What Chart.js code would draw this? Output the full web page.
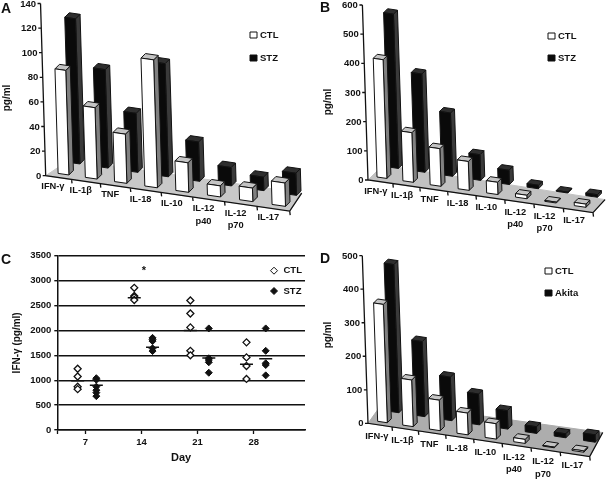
<!DOCTYPE html>
<html lang="en">
<head>
<meta charset="UTF-8">
<title>Cytokine levels</title>
<script src="https://cdn.jsdelivr.net/npm/chart.js"></script>
<style>
    body { margin: 0; background: #fff; }
    #page { position: relative; width: 606px; height: 481px; overflow: hidden; }
    canvas { position: absolute; }
    .letter { position: absolute; font: bold 14px "Liberation Sans", Arial, sans-serif; color: #111; line-height: 14px; }
</style>
</head>
<body>
<div id="page">
    <canvas id="chartC" width="306" height="241" style="left:0;top:240px"></canvas>
    <canvas id="chartA" width="303" height="240" style="left:0;top:0"></canvas>
    <canvas id="chartB" width="303" height="240" style="left:303px;top:0"></canvas>
    <canvas id="chartD" width="303" height="241" style="left:303px;top:240px"></canvas>
    <div class="letter" style="left:1px;top:1px">A</div>
    <div class="letter" style="left:320px;top:0px">B</div>
    <div class="letter" style="left:1px;top:252px">C</div>
    <div class="letter" style="left:320px;top:251px">D</div>
</div>
<script>
const cytokines = ['IFN-γ', 'IL-1β', 'TNF', 'IL-18', 'IL-10', ['IL-12', 'p40'], ['IL-12', 'p70'], 'IL-17'];

// panel A
const ctlA = [85, 58, 40, 104, 24, 9, 11, 19];
const stzA = [118, 80, 48, 92, 32, 15, 11, 18];
// panel B
const ctlB = [407, 170, 129, 99, 42, 12, 3, 11];
const stzB = [529, 337, 217, 88, 49, 12, 3, 9];
// panel D
const ctlD = [353, 139, 91, 65, 46, 12, 2, 4];
const akitaD = [442, 224, 130, 92, 55, 20, 12, 22];

// panel C, one list of values per day
const dayTicks = [3.5, 7, 14, 21, 28];
const ctlDays = [6.04, 13.1, 20.1, 27.1];
const stzDays = [8.37, 15.38, 22.4, 29.5];
const ctlValues = [
    [1230, 1075, 870, 820],
    [2855, 2690, 2665, 2610],
    [2600, 2340, 2060, 1590, 1500],
    [1760, 1458, 1285, 1025]
];
const stzValues = [
    [1040, 1010, 870, 800, 750, 680],
    [1850, 1820, 1785, 1640, 1585],
    [2040, 1440, 1405, 1360, 1150],
    [2040, 1590, 1340, 1305, 1097]
];
const ctlMeans = [990, 2655, 2000, 1318];
const stzMeans = [900, 1660, 1445, 1432];

const FONT = '"Liberation Sans", Arial, sans-serif';
Chart.defaults.font.family = FONT;
Chart.defaults.color = '#111';

function label(ctx, text, x, y, size, align, rot) {
    ctx.save();
    ctx.translate(x, y);
    if (rot) ctx.rotate(rot);
    ctx.font = 'bold ' + size + 'px ' + FONT;
    ctx.fillStyle = '#111';
    ctx.textAlign = align || 'center';
    ctx.textBaseline = 'middle';
    ctx.fillText(text, 0, 0);
    ctx.restore();
}

function poly(ctx, pts, fill, stroke) {
    ctx.beginPath();
    pts.forEach((p, i) => i ? ctx.lineTo(p[0], p[1]) : ctx.moveTo(p[0], p[1]));
    ctx.closePath();
    ctx.fillStyle = fill;
    ctx.fill();
    ctx.strokeStyle = stroke;
    ctx.lineWidth = 1;
    ctx.stroke();
}

// the sloped floor look: bar elements and ticks keep their scale positions, this only skews them
function skewPlugin(p) {
    const project = (chart, x, y, dx, dy) => {
        const yb = chart.scales.y.getPixelForValue(0);
        const a = chart.chartArea;
        const w = a.right - a.left;
        // categories get a bit wider towards the viewer
        const mx = a.left + w * Math.pow(Math.max(x - a.left, 0) / w, p.persp);
        return [mx + p.tilt * (yb - y) + dx, y + p.slope * (mx - a.left) + dy];
    };
    return {
        id: 'skew',
        beforeDatasetsDraw(chart) {
            const ctx = chart.ctx, a = chart.chartArea, sx = chart.scales.x, sy = chart.scales.y;
            const fl = project(chart, a.left, a.bottom, 0, 0);
            const fr = project(chart, a.right, a.bottom, 0, 0);
            poly(ctx, [fl, fr, [fr[0] + p.backR[0], fr[1] + p.backR[1]], [fl[0] + p.backL[0], fl[1] + p.backL[1]]], p.floor, p.floor);

            ctx.strokeStyle = '#111';
            ctx.lineWidth = 1.3;
            ctx.beginPath();
            // y axis
            ctx.moveTo(...project(chart, a.left, a.top, 0, 0));
            ctx.lineTo(...fl);
            // front and right edge of the floor
            ctx.lineTo(...fr);
            ctx.lineTo(fr[0] + p.backR[0], fr[1] + p.backR[1]);
            // y ticks
            sy.ticks.forEach(t => {
                const q = project(chart, a.left, sy.getPixelForValue(t.value), 0, 0);
                ctx.moveTo(q[0], q[1]);
                ctx.lineTo(q[0] - 3, q[1]);
            });
            // x ticks sit between the categories
            const step = (a.right - a.left) / chart.data.labels.length;
            chart.data.labels.forEach((l, i) => {
                const q = project(chart, a.left + step * (i + 1), a.bottom, 0, 0);
                ctx.moveTo(q[0], q[1]);
                ctx.lineTo(q[0] + 0.5, q[1] + 4);
            });
            ctx.stroke();

            sy.ticks.forEach(t => {
                const q = project(chart, a.left, sy.getPixelForValue(t.value), 0, 0);
                label(ctx, String(t.value), q[0] - 4.5, q[1] + 0.5, 9.5, 'right');
            });
            chart.data.labels.forEach((l, i) => {
                const q = project(chart, sx.getPixelForValue(i), a.bottom, p.labelDx, p.labelDy);
                [].concat(l).forEach((s, k) => label(ctx, s, q[0], q[1] + k * 12.7, 9.3));
            });
            label(ctx, 'pg/ml', p.title[0], p.title[1], 10, 'center', -Math.PI / 2);
        },
        // each bar element is drawn as a box
        beforeDatasetDraw(chart, args) {
            const ctx = chart.ctx, ds = chart.data.datasets[args.index];
            const row = p.rows[args.index];
            args.meta.data.forEach(el => {
                const l = el.x - el.width / 2, r = el.x + el.width / 2;
                const tl = project(chart, l, el.y, row[0], row[1]);
                const tr = project(chart, r, el.y, row[0], row[1]);
                const br = project(chart, r, el.base, row[0], row[1]);
                const bl = project(chart, l, el.base, row[0], row[1]);
                const off = q => [q[0] + p.depth[0], q[1] + p.depth[1]];
                poly(ctx, [tr, br, off(br), off(tr)], ds.sideColor, '#111');
                poly(ctx, [tl, tr, off(tr), off(tl)], ds.topColor, '#111');
                poly(ctx, [tl, tr, br, bl], ds.backgroundColor, '#111');
            });
            return false;
        },
        afterDatasetsDraw(chart) {
            const ctx = chart.ctx;
            chart.data.datasets.forEach((ds, i) => {
                const q = p.legend[i];
                poly(ctx, [[q[0], q[1] - 3], [q[0] + 7, q[1] - 3], [q[0] + 7, q[1] + 3], [q[0], q[1] + 3]], ds.backgroundColor, '#111');
                label(ctx, ds.label, q[0] + 10, q[1] + 0.5, 9.5, 'left');
            });
        }
    };
}

function barPanel(id, first, second, secondName, maxY, stepY, pad, width, p) {
    new Chart(document.getElementById(id), {
        type: 'bar',
        data: {
            labels: cytokines,
            datasets: [
                { label: 'CTL', data: first, backgroundColor: '#ffffff', sideColor: '#808080', topColor: '#c4c4c4', barThickness: width, grouped: false },
                { label: secondName, data: second, backgroundColor: '#0a0a0a', sideColor: '#3a3a3a', topColor: '#2e2e2e', barThickness: width, grouped: false }
            ]
        },
        options: {
            responsive: false,
            animation: false,
            layout: { padding: pad },
            plugins: { legend: { display: false }, tooltip: { enabled: false } },
            scales: {
                x: { display: false },
                y: { display: false, min: 0, max: maxY, ticks: { stepSize: stepY } }
            }
        },
        plugins: [skewPlugin(p)]
    });
}

barPanel('chartA', ctlA, stzA, 'STZ', 140, 20,
    { left: 45.7, right: 13.3, top: 3.5, bottom: 64.3 }, 12.5, {
    tilt: -0.03, slope: 0.145, persp: 1.08, floor: '#c8c8c8',
    backL: [24, -16], backR: [12, -18], depth: [4.5, -4.5],
    rows: [[5.5, -3.3], [16.5, -14.3]],
    labelDx: -5, labelDy: 9, title: [7, 98],
    legend: [[250, 35], [250, 58]]
});

barPanel('chartB', ctlB, stzB, 'STZ', 600, 100,
    { left: 65, right: 13, top: 5, bottom: 60 }, 11, {
    tilt: -0.032, slope: 0.145, persp: 1.06, floor: '#c2c2c2',
    backL: [15, -15], backR: [12, -13], depth: [4, -4],
    rows: [[2, -4], [13.5, -14]],
    labelDx: -4, labelDy: 10, title: [25, 102],
    legend: [[245, 36], [245, 58]]
});

barPanel('chartD', ctlD, akitaD, 'Akita', 500, 100,
    { left: 65, right: 16.3, top: 15.7, bottom: 57.7 }, 11, {
    tilt: -0.034, slope: 0.15, persp: 1.07, floor: '#adadad',
    backL: [15, -21], backR: [13, -24], depth: [4, -4],
    rows: [[3, -3], [14.5, -13]],
    labelDx: -2.5, labelDy: 11.5, title: [25, 95],
    legend: [[242, 31], [242, 53]]
});

// panel C
function points(days, lists) {
    const out = [];
    days.forEach((d, i) => lists[i].forEach(v => out.push({ x: d, y: v })));
    return out;
}

const scatterLegend = {
    id: 'scatterLegend',
    afterDraw(chart) {
        const ctx = chart.ctx, sx = chart.scales.x, sy = chart.scales.y;
        label(ctx, '*', sx.getPixelForValue(14.3), sy.getPixelForValue(3190), 11);
        [['CTL', '#fff', 30.7], ['STZ', '#111', 51]].forEach(e => {
            poly(ctx, [[274, e[2] - 3.5], [277.5, e[2]], [274, e[2] + 3.5], [270.5, e[2]]], e[1], '#111');
            label(ctx, e[0], 283.5, e[2], 9.5, 'left');
        });
    }
};

new Chart(document.getElementById('chartC'), {
    type: 'scatter',
    data: {
        datasets: [
            { label: 'CTL mean', data: ctlDays.map((d, i) => ({ x: d, y: ctlMeans[i] })), pointStyle: 'line', pointRadius: 6.5, borderColor: '#111', borderWidth: 1.5 },
            { label: 'STZ mean', data: stzDays.map((d, i) => ({ x: d, y: stzMeans[i] })), pointStyle: 'line', pointRadius: 6.5, borderColor: '#111', borderWidth: 1.5 },
            { label: 'CTL', data: points(ctlDays, ctlValues), pointStyle: 'rectRot', pointRadius: 3.5, backgroundColor: '#fff', borderColor: '#111', borderWidth: 1.3 },
            { label: 'STZ', data: points(stzDays, stzValues), pointStyle: 'rectRot', pointRadius: 3.5, backgroundColor: '#111', borderColor: '#111', borderWidth: 1 }
        ]
    },
    options: {
        responsive: false,
        animation: false,
        layout: { autoPadding: false, padding: { top: 15.7, right: 1 } },
        plugins: { legend: { display: false }, tooltip: { enabled: false } },
        scales: {
            x: {
                type: 'linear', min: 3.5, max: 34.4,
                afterBuildTicks: s => { s.ticks = dayTicks.map(v => ({ value: v })); },
                afterFit: s => { s.height = 51; },
                ticks: { maxRotation: 0, autoSkip: false, padding: 3, font: { size: 9.5, weight: 'bold' }, color: '#111',
                    callback: v => v === 3.5 ? '' : v },
                grid: { drawOnChartArea: false, color: '#111', tickLength: 4, tickWidth: 1.3 },
                border: { color: '#111', width: 1.5 },
                title: { display: true, text: 'Day', color: '#111', font: { size: 11, weight: 'bold' }, padding: { top: 0, bottom: 16 } }
            },
            y: {
                min: 0, max: 3500,
                afterFit: s => { s.width = 57.3; },
                ticks: { stepSize: 500, padding: 3, font: { size: 9.5, weight: 'bold' }, color: '#111', callback: v => v },
                grid: { color: '#111', lineWidth: 1.4, tickLength: 3 },
                border: { color: '#111', width: 1.5 },
                title: { display: true, text: 'IFN-γ (pg/ml)', color: '#111', font: { size: 10, weight: 'bold' }, padding: { top: 11, bottom: 0 } }
            }
        }
    },
    plugins: [scatterLegend]
});
</script>
</body>
</html>
